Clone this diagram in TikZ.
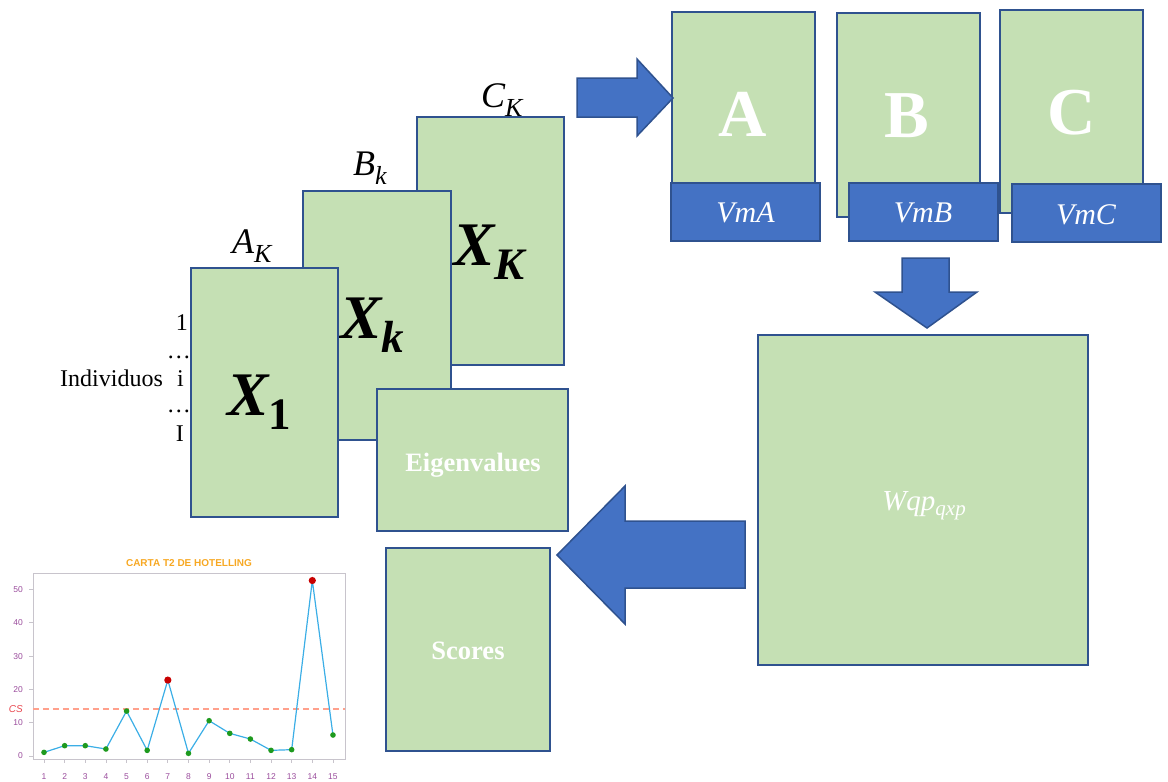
\documentclass[tikz,border=0pt]{standalone}
\usepackage{fontspec}
\setmainfont{Liberation Serif}
\setsansfont{Liberation Sans}
\definecolor{boxgreen}{HTML}{C5E0B4}
\definecolor{boxline}{HTML}{2F528F}
\definecolor{boxblue}{HTML}{4472C4}
\definecolor{chorange}{HTML}{F7A823}
\definecolor{chpurple}{HTML}{9A4C9C}
\definecolor{chblue}{HTML}{3BAEE6}
\definecolor{chgreen}{HTML}{1E9A1E}
\definecolor{chred}{HTML}{C80000}
\definecolor{chcs}{HTML}{FFA08C}
\definecolor{chcstext}{HTML}{E8474F}
\definecolor{chframe}{HTML}{C8C4CC}
\newcommand\bigX[1]{{\fontsize{62}{62}\selectfont\bfseries\itshape X}\raisebox{-14pt}{\fontsize{45}{45}\selectfont\bfseries\itshape #1}}
\newcommand\mlab[2]{{\fontsize{36}{36}\selectfont\itshape #1}\raisebox{-9pt}{\fontsize{26}{26}\selectfont\itshape #2}}
\begin{document}
\begin{tikzpicture}[x=1pt,y=-1pt,
  gbox/.style={draw=boxline,fill=boxgreen,line width=1.8pt,inner sep=0pt},
  bbox/.style={draw=boxline,fill=boxblue,line width=1.8pt,inner sep=0pt},
  barrow/.style={draw=boxline,fill=boxblue,line width=1.5pt,line join=miter},
  lbl/.style={inner sep=0pt,anchor=base west},
  rlbl/.style={inner sep=0pt,anchor=base east,font=\fontsize{24}{24}\selectfont},
  bigw/.style={inner sep=0pt,text=white,font=\fontsize{67}{67}\selectfont\bfseries},
  vm/.style={inner sep=0pt,text=white,font=\fontsize{30}{30}\selectfont\itshape},
  boldw/.style={inner sep=0pt,anchor=base,text=white,font=\fontsize{26.5}{26.5}\selectfont\bfseries},
  tick/.style={inner sep=0pt,text=chpurple,font=\sffamily\fontsize{8.5}{8.5}\selectfont}]
\useasboundingbox (0,0) rectangle (1168,782);
% stacked data matrices
\node[gbox,minimum width=147pt,minimum height=248pt] (XK) at (490.5,241) {};
\node[lbl] (tXK) at (453,265) {\bigX{K}};
\node[gbox,minimum width=148pt,minimum height=249pt] (Xk) at (377,315.5) {};
\node[lbl] (tXk) at (340,338) {\bigX{k}};
\node[gbox,minimum width=147pt,minimum height=249pt] (X1) at (264.5,392.5) {};
\node[lbl] (tX1) at (227,415) {\bigX{\upshape 1}};
\node[lbl] (lA) at (232,253) {\mlab{A}{K}};
\node[lbl] (lB) at (353,175) {\mlab{B}{k}};
\node[lbl] (lC) at (481,107) {\mlab{C}{K}};
% individuals
\node[inner sep=0pt,anchor=base west,font=\fontsize{24}{24}\selectfont] (ind) at (60,386) {Individuos};
\node[rlbl] (r1) at (188,330) {1};
\node[rlbl] (d1) at (191,358) {\ldots};
\node[rlbl] (ri) at (184,386) {i};
\node[rlbl] (d2) at (191,412) {\ldots};
\node[rlbl] (rI) at (184,441) {I};
% eigenvalues and scores
\node[gbox,minimum width=191pt,minimum height=142pt] (eig) at (472.5,460) {};
\node[boldw] (teig) at (473,471) {Eigenvalues};
\node[gbox,minimum width=164pt,minimum height=203pt] (sco) at (468,649.5) {};
\node[boldw] (tsco) at (468,659) {Scores};
% A B C
\node[gbox,minimum width=143pt,minimum height=228pt] (A) at (743.5,126) {};
\node[gbox,minimum width=143pt,minimum height=204pt] (B) at (908.5,115) {};
\node[gbox,minimum width=143pt,minimum height=203pt] (C) at (1071.5,111.5) {};
\node[bigw] (tA) at (743,114.5) {A};
\node[bigw] (tB) at (907,116) {B};
\node[bigw] (tC) at (1072,113) {C};
\node[bbox,minimum width=149pt,minimum height=58pt] (VmA) at (745.5,212) {};
\node[bbox,minimum width=149pt,minimum height=58pt] (VmB) at (923.5,212) {};
\node[bbox,minimum width=149pt,minimum height=58pt] (VmC) at (1086.5,213) {};
\node[vm] (tVmA) at (745.5,213) {VmA};
\node[vm] (tVmB) at (923,213) {VmB};
\node[vm] (tVmC) at (1086,215) {VmC};
% W
\node[gbox,minimum width=330pt,minimum height=330pt] (W) at (923,500) {};
\node[inner sep=0pt,anchor=base,text=white,font=\fontsize{29}{29}\selectfont\itshape] (tW) at (924,510) {Wqp\raisebox{-5pt}{\fontsize{21}{21}\selectfont qxp}};
% block arrows
\draw[barrow] (577,78) -- (637,78) -- (637,59) -- (673,98) -- (637,136) -- (637,117) -- (577,117) -- cycle;
\draw[barrow] (902,258) -- (949,258) -- (949,292) -- (977,292) -- (927,328) -- (875,292) -- (902,292) -- cycle;
\draw[barrow] (745,521) -- (625,521) -- (625,486) -- (557,555) -- (625,624) -- (625,588) -- (745,588) -- cycle;
% Hotelling chart
\node[inner sep=0pt,text=chorange,font=\sffamily\bfseries\fontsize{10}{10}\selectfont] (ttl) at (189,563) {CARTA T2 DE HOTELLING};
\draw[chframe,line width=1pt] (33,573) rectangle (345,759);
\begin{scope}[shift={(23.36,756)},x=20.64pt,y=3.33pt]
  \foreach \v in {0,10,...,50} {
    \draw[chframe,line width=0.8pt] (0.467,\v) -- ++(-4pt,0);
    \node[tick,anchor=east] (yl\v) at (-0.02,\v) {\v};
  }
  \foreach \i in {1,...,15} {
    \draw[chframe,line width=0.8pt] (\i,-0.9) -- ++(0,-4pt);
    \node[tick] (xl\i) at (\i,-6.3) {\i};
  }
  \draw[chcs,line width=2pt,dash pattern=on 6pt off 4pt] (0.467,14.2) -- (15.58,14.2);
  \node[inner sep=0pt,anchor=east,text=chcstext,font=\sffamily\itshape\fontsize{10}{10}\selectfont] (cs) at (-0.02,14.2) {CS};
  \draw[chblue,line width=1.2pt,line join=round] plot coordinates {(1,1.1) (2,3.1) (3,3.1) (4,2.1) (5,13.5) (6,1.7) (7,22.8) (8,0.8) (9,10.6) (10,6.8) (11,5.1) (12,1.7) (13,1.9) (14,52.7) (15,6.3)};
  \foreach \i/\v in {1/1.1,2/3.1,3/3.1,4/2.1,5/13.5,6/1.7,8/0.8,9/10.6,10/6.8,11/5.1,12/1.7,13/1.9,15/6.3}
    \fill[chgreen] (\i,\v) circle[radius=2.8pt];
  \foreach \i/\v in {7/22.8,14/52.7}
    \fill[chred] (\i,\v) circle[radius=3.6pt];
\end{scope}
\end{tikzpicture}
\end{document}
